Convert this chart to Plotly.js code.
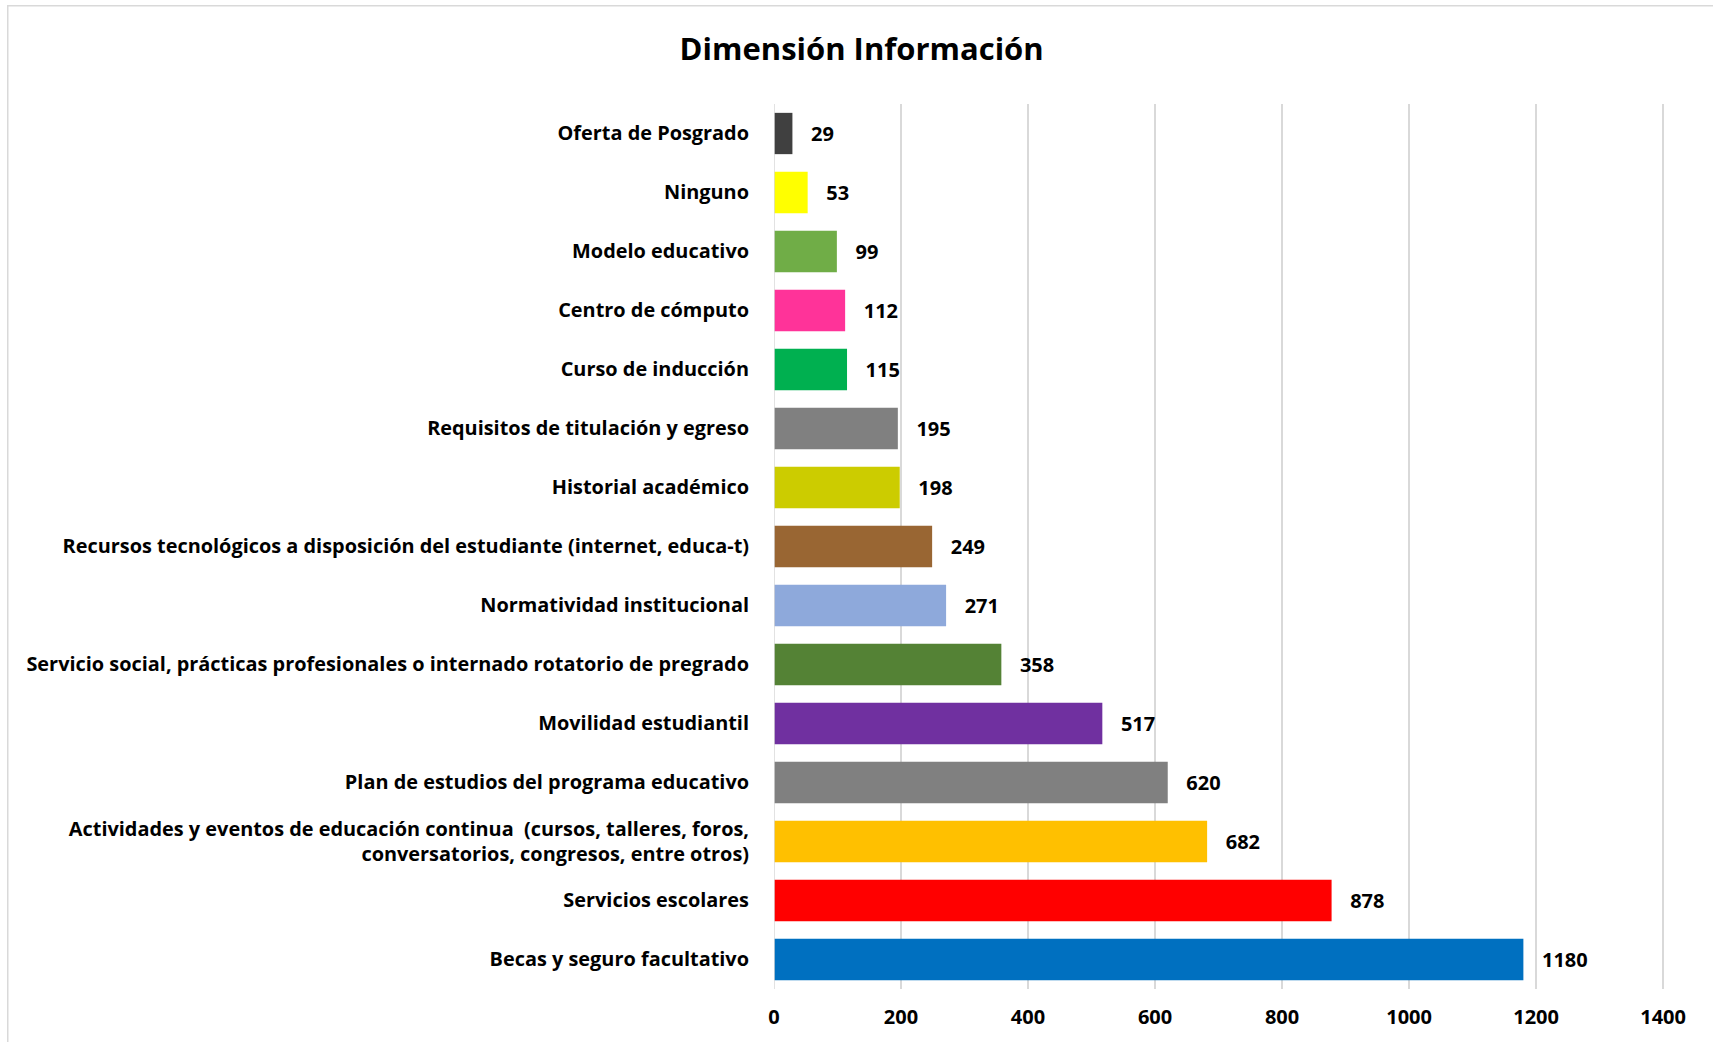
<!DOCTYPE html>
<html>
<head>
<meta charset="utf-8">
<script src="https://cdn.plot.ly/plotly-3.0.1.min.js"></script>
<style>html,body{margin:0;padding:0;background:#fff;}#chart{width:1713px;height:1042px;}</style>
</head>
<body>
<div id="chart"></div>
<script>
const categories = [
  "Becas y seguro facultativo",
  "Servicios escolares",
  "Actividades y eventos de educación continua  (cursos, talleres, foros,<br>conversatorios, congresos, entre otros)",
  "Plan de estudios del programa educativo",
  "Movilidad estudiantil",
  "Servicio social, prácticas profesionales o internado rotatorio de pregrado",
  "Normatividad institucional",
  "Recursos tecnológicos a disposición del estudiante (internet, educa-t)",
  "Historial académico",
  "Requisitos de titulación y egreso",
  "Curso de inducción",
  "Centro de cómputo",
  "Modelo educativo",
  "Ninguno",
  "Oferta de Posgrado"
];
const values = [1180, 878, 682, 620, 517, 358, 271, 249, 198, 195, 115, 112, 99, 53, 29];
const colors = ["#0070C0", "#FF0000", "#FFC000", "#808080", "#7030A0", "#548235", "#8EA9DB",
  "#996633", "#CCCC00", "#808080", "#00B050", "#FF3399", "#70AD47", "#FFFF00", "#404040"];
const xTicks = [0, 200, 400, 600, 800, 1000, 1200, 1400];

const FONT = "Open Sans, Noto Sans, sans-serif";

Plotly.newPlot("chart", [{
  type: "bar",
  orientation: "h",
  y: categories,
  x: values,
  marker: {color: colors},
  text: values.map(v => "\u00a0\u00a0\u00a0" + v),
  textposition: "outside",
  cliponaxis: false,
  textfont: {family: FONT, size: 20, color: "#000", weight: "bold"},
  hoverinfo: "x+y"
}], {
  width: 1713, height: 1042,
  paper_bgcolor: "#fff", plot_bgcolor: "#fff",
  margin: {l: 774, r: 48, t: 104, b: 53},
  bargap: 0.3,
  showlegend: false,
  title: {text: "<b>Dimensión Información</b>", x: 0.503, xref: "container", y: 0.953, yref: "container", yanchor: "middle",
    font: {family: FONT, size: 31, color: "#000"}},
  xaxis: {
    range: [0, 1403], tickvals: xTicks, ticktext: xTicks.map(String),
    showgrid: true, gridcolor: "#D9D9D9", gridwidth: 1.5, zeroline: false, showline: false,
    ticks: "outside", ticklen: 10, tickcolor: "rgba(0,0,0,0)",
    tickfont: {family: FONT, size: 20, color: "#000", weight: "bold"}, fixedrange: true
  },
  yaxis: {
    type: "category", automargin: false, showgrid: false, zeroline: false,
    showline: false,
    ticks: "outside", ticklen: 20, tickcolor: "rgba(0,0,0,0)",
    tickfont: {family: FONT, size: 19.9, color: "#000", weight: "bold"}, fixedrange: true
  },
  shapes: [
    {type: "line", xref: "x", yref: "paper", x0: 0, x1: 0, y0: 0, y1: 1, line: {color: "#D9D9D9", width: 1.5}},
    {type: "rect", xref: "paper", yref: "paper", x0: -0.860, x1: 1.1, y0: -0.1, y1: 1.111,
     line: {color: "#D9D9D9", width: 1.5}, fillcolor: "rgba(0,0,0,0)", layer: "below"}
  ]
}, {displayModeBar: false, staticPlot: true});
</script>
</body>
</html>
